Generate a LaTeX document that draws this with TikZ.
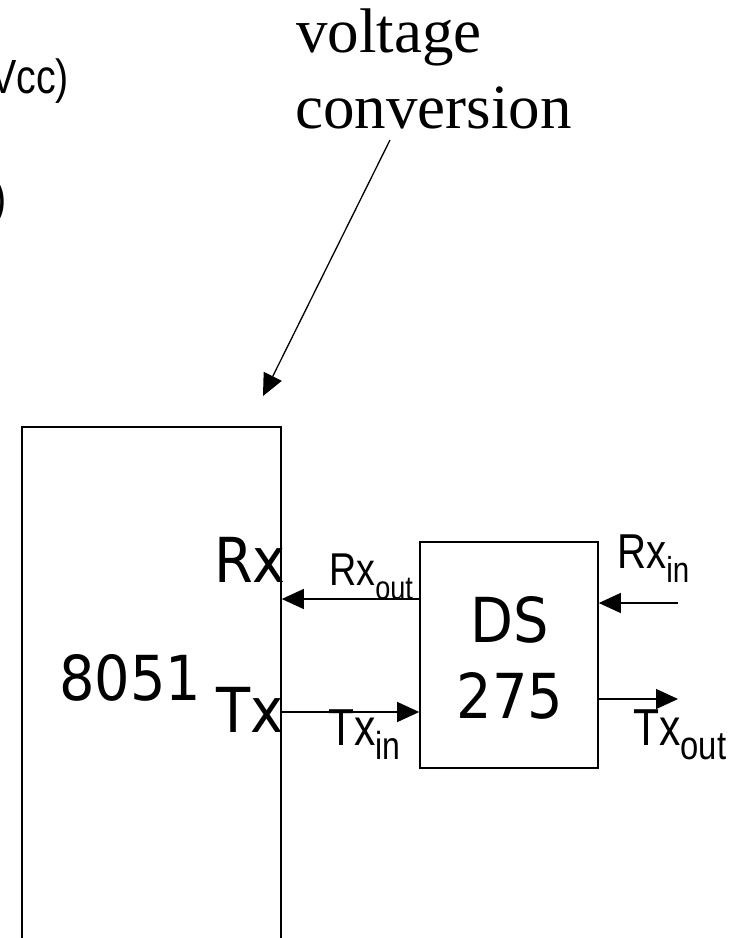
\documentclass[tikz,border=0pt]{standalone}
\usepackage{fontspec}
\usetikzlibrary{arrows.meta}
\newfontfamily\blockfont[FakeStretch=0.9]{DejaVu Sans}
\newfontfamily\narrowfont[FakeStretch=0.82]{Liberation Sans}
\newfontfamily\serffont{Liberation Serif}
\newcommand{\sublab}[4]{{\fontsize{#3}{#3}\selectfont #1}\raisebox{-14pt}{\fontsize{#4}{#4}\selectfont #2}}
\tikzset{
  box/.style={draw=black, line width=1.6pt, inner sep=0pt},
  conn/.style={line width=1.3pt, -{Triangle[length=22pt,width=20pt]}},
  big/.style={inner sep=0pt, font=\blockfont\fontsize{62}{76}\selectfont},
  lab/.style={inner sep=0pt, anchor=base west, font=\narrowfont},
  serif/.style={inner sep=0pt, anchor=base west, font=\serffont\fontsize{63}{76}\selectfont}
}
\begin{document}
\begin{tikzpicture}[x=1pt,y=-1pt]
\useasboundingbox (0,0) rectangle (738,938);
% cut-off texts at left
\node[lab, anchor=base east] (vcc) at (69,93) {\fontsize{48}{48}\selectfont Vcc)};
\node[lab, anchor=base east] (paren) at (7,214) {\fontsize{48}{48}\selectfont )};
% voltage conversion label
\node[serif] (volt) at (296,52) {voltage};
\node[serif] (conv) at (295,128) {conversion};
\coordinate (lead) at (390,140);
\coordinate (tipc) at (263,396);
\draw[conn] (lead) -- (tipc);
% boxes
\node[box, minimum width=259pt, minimum height=523pt] (chip) at (151.5,688.5) {};
\node[box, minimum width=178pt, minimum height=226pt] (ds) at (509,655) {};
% box texts
\node[big, anchor=base west] (n8051) at (59,700) {8051};
\node[big, anchor=base west] (rx) at (214,582) {Rx};
\node[big, anchor=base west] (tx) at (216,732) {Tx};
\node[big, anchor=base] (dsa) at (510,642) {DS};
\node[big, anchor=base] (dsb) at (510,718) {275};
% pin labels
\node[lab] (rxout) at (329,585) {\sublab{Rx}{out}{46}{33}};
\node[lab] (rxin) at (617,568) {\sublab{Rx}{in}{49}{36}};
\node[lab] (txin) at (328,745) {\sublab{Tx}{in}{52}{39}};
\node[lab] (txout) at (633,745) {\sublab{Tx}{out}{52}{40}};
% connectors
\coordinate (rxsrc) at (678,603);
\coordinate (txdst) at (678,699);
\draw[conn] (ds.west |- 0,599) -- (chip.east |- 0,599);
\draw[conn] (chip.east |- 0,712) -- (ds.west |- 0,712);
\draw[conn] (rxsrc) -- (ds.east |- rxsrc);
\draw[conn] (ds.east |- txdst) -- (txdst);
\end{tikzpicture}
\end{document}
